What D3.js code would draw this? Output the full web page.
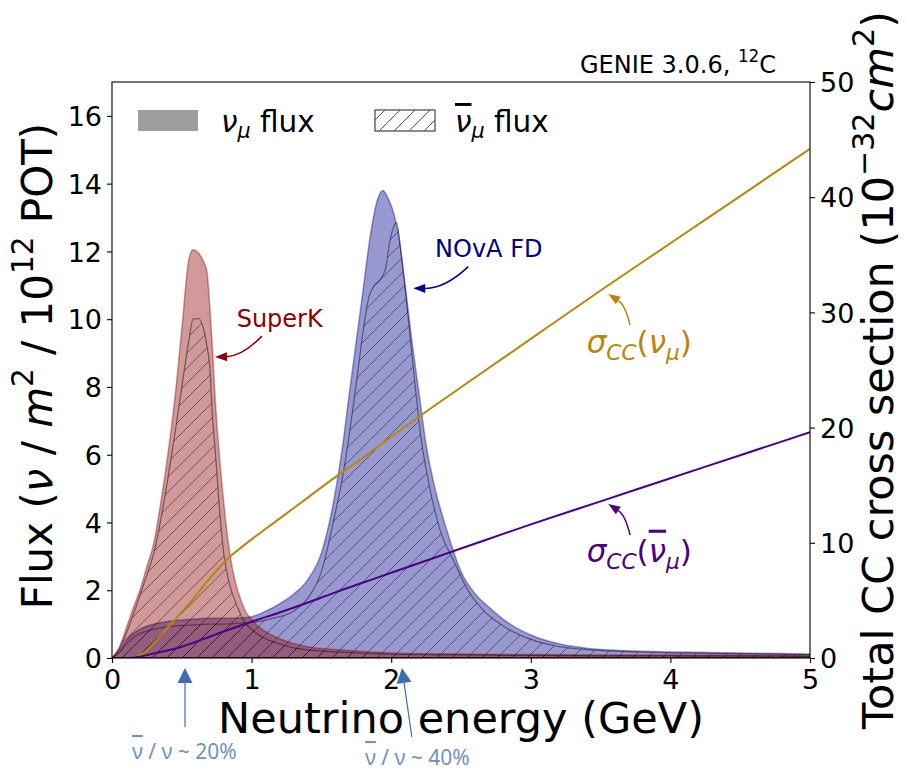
<!DOCTYPE html>
<html>
<head>
<meta charset="utf-8">
<script src="https://cdn.jsdelivr.net/npm/d3@7"></script>
<style>
  body { margin: 0; background: #fff; }
  svg { display: block; }
</style>
</head>
<body>
<svg id="chart" width="907" height="772"></svg>
<script>
// ---- Flux spectra (ν / m² / 10¹² POT) ----
const energySK = [0, 0.05, 0.1, 0.15, 0.2, 0.25, 0.3, 0.35, 0.4, 0.45, 0.5, 0.55, 0.58, 0.62, 0.65, 0.68, 0.7, 0.72, 0.74, 0.77,
                  0.8, 0.84, 0.88, 0.92, 0.96, 1.0, 1.05, 1.1, 1.2, 1.3, 1.4, 1.6, 1.8, 2.0, 2.5, 3.0, 3.5, 4.0, 4.5, 5.0];
const superkNu = [0, 0.3, 0.85, 1.45, 2.0, 2.7, 3.4, 4.6, 6.0, 7.65, 9.7, 11.75, 12.05, 11.95, 11.75, 11.4, 10.4, 9.1, 7.6, 5.95,
                  4.6, 3.2, 2.3, 1.75, 1.35, 1.15, 0.92, 0.78, 0.57, 0.43, 0.33, 0.25, 0.19, 0.15, 0.12, 0.1, 0.09, 0.085, 0.08, 0.07];
const superkNubar = [0, 0.25, 0.7, 1.25, 1.85, 2.45, 3.1, 4.1, 5.3, 6.6, 8.0, 9.35, 10.0, 10.02, 9.8, 9.2, 8.6, 7.1, 6.1, 4.4,
                     3.1, 2.2, 1.7, 1.3, 1.0, 0.85, 0.68, 0.57, 0.42, 0.3, 0.24, 0.18, 0.14, 0.11, 0.09, 0.075, 0.065, 0.06, 0.055, 0.05];

const energyNOvA = [0, 0.05, 0.1, 0.15, 0.2, 0.3, 0.4, 0.5, 0.6, 0.7, 0.8, 0.9, 1.0, 1.1, 1.2, 1.3, 1.4, 1.5, 1.6, 1.65,
                    1.7, 1.75, 1.8, 1.85, 1.9, 1.94, 1.98, 2.02, 2.06, 2.1, 2.15, 2.2, 2.25, 2.3, 2.4, 2.5, 2.6, 2.7, 2.8, 2.9,
                    3.0, 3.2, 3.4, 3.6, 3.8, 4.0, 4.3, 4.6, 5.0];
const novaNu = [0, 0.2, 0.5, 0.72, 0.85, 1.0, 1.08, 1.12, 1.15, 1.17, 1.17, 1.18, 1.22, 1.38, 1.6, 1.88, 2.3, 3.1, 4.9, 6.2,
                7.8, 9.35, 10.9, 12.45, 13.5, 13.8, 13.55, 13.1, 12.3, 11.0, 9.3, 7.8, 6.3, 5.25, 3.75, 2.55, 1.9, 1.5, 1.15, 0.88,
                0.68, 0.42, 0.29, 0.23, 0.2, 0.18, 0.16, 0.14, 0.12];

const energyNOvABar = [0, 0.05, 0.1, 0.15, 0.2, 0.3, 0.4, 0.5, 0.6, 0.7, 0.8, 0.9, 1.0, 1.1, 1.2, 1.3, 1.4, 1.5, 1.6, 1.65,
                       1.7, 1.75, 1.8, 1.84, 1.88, 1.92, 1.96, 1.99, 2.02, 2.04, 2.07, 2.1, 2.13, 2.17, 2.21, 2.27, 2.35, 2.45, 2.55, 2.65,
                       2.8, 3.0, 3.2, 3.4, 3.6, 3.8, 4.0, 4.5, 5.0];
const novaNubar = [0, 0.15, 0.4, 0.6, 0.72, 0.85, 0.92, 0.96, 0.98, 1.0, 1.0, 1.02, 1.05, 1.12, 1.22, 1.38, 1.75, 2.55, 4.3, 5.3,
                   6.6, 8.1, 9.68, 10.65, 11.0, 11.16, 11.5, 12.3, 12.75, 12.85, 11.95, 10.9, 9.7, 8.1, 6.6, 5.15, 3.78, 2.85, 2.0, 1.45,
                   0.95, 0.55, 0.34, 0.25, 0.2, 0.17, 0.15, 0.12, 0.1];

// ---- GENIE total CC cross sections on carbon (10⁻³² cm²) ----
const energyXsecNu = [0.15, 0.2, 0.25, 0.3, 0.4, 0.5, 0.6, 0.7, 0.8, 0.85, 0.9, 1.0, 1.2, 1.4, 1.6, 1.8, 2.0, 2.2, 2.5, 3.0, 3.5, 4.0, 4.5, 5.0];
const xsecNu = [0, 0.25, 0.65, 1.3, 2.65, 4.0, 5.4, 6.9, 8.25, 8.85, 9.35, 10.3, 12.1, 13.9, 15.7, 17.4, 19.2, 20.95, 23.5, 27.7, 31.9, 36.0, 40.1, 44.2];
const energyXsecNubar = [0.14, 0.2, 0.3, 0.45, 0.6, 0.7, 0.8, 1.0, 1.2, 1.4, 1.6, 1.8, 2.0, 2.5, 3.0, 3.5, 4.0, 4.5, 5.0];
const xsecNubar = [0, 0.12, 0.4, 0.8, 1.4, 1.85, 2.3, 3.15, 3.95, 4.8, 5.7, 6.55, 7.4, 9.5, 11.6, 13.6, 15.6, 17.6, 19.6];

// ---- Axis ticks ----
const energyTicks = [0, 1, 2, 3, 4, 5];
const fluxTicks = [0, 2, 4, 6, 8, 10, 12, 14, 16];
const xsecTicks = [0, 10, 20, 30, 40, 50];

// ---- Layout ----
const L = 112, R = 810, T = 82, B = 658;
const FONT = "'DejaVu Sans', sans-serif";
const C_RED = "#8b0000", C_BLUE = "#00008b", C_GOLD = "#b8860b", C_INDIGO = "#4b0082";
const C_NOTE_TXT = "#7090c6", C_NOTE_ARW = "#3e6db3";

const svg = d3.select("#chart");
svg.append("rect").attr("width", 907).attr("height", 772).attr("fill", "#fff");

const x = d3.scaleLinear().domain([0, 5]).range([L, R]);
const yFlux = d3.scaleLinear().domain([0, 17]).range([B, T]);
const yXsec = d3.scaleLinear().domain([0, 50]).range([B, T]);

const defs = svg.append("defs");
defs.append("clipPath").attr("id", "plotClip")
  .append("rect").attr("x", L).attr("y", T).attr("width", R - L).attr("height", B - T);

function hatchPattern(id, color, opacity) {
  const p = defs.append("pattern").attr("id", id)
    .attr("patternUnits", "userSpaceOnUse").attr("width", 15).attr("height", 15);
  p.append("path").attr("d", "M-2,2 L2,-2 M0,15 L15,0 M13,17 L17,13")
    .attr("stroke", color).attr("stroke-opacity", opacity).attr("stroke-width", 1).attr("fill", "none");
}
hatchPattern("hatchData", "#000", 0.45);
hatchPattern("hatchLegend", "#444", 0.9);

const plot = svg.append("g").attr("clip-path", "url(#plotClip)");

function zip(es, vs) { return es.map((e, i) => [e, vs[i]]); }
const area = d3.area().x(d => x(d[0])).y0(yFlux(0)).y1(d => yFlux(d[1])).curve(d3.curveMonotoneX);

function filledFlux(es, vs, color) {
  plot.append("path").datum(zip(es, vs)).attr("d", area)
    .attr("fill", color).attr("fill-opacity", 0.4)
    .attr("stroke", color).attr("stroke-opacity", 0.4).attr("stroke-width", 1.5);
}
function hatchedFlux(es, vs) {
  plot.append("path").datum(zip(es, vs)).attr("d", area)
    .attr("fill", "url(#hatchData)")
    .attr("stroke", "#000").attr("stroke-opacity", 0.45).attr("stroke-width", 1.2);
}

filledFlux(energyNOvA, novaNu, C_BLUE);
hatchedFlux(energyNOvABar, novaNubar);
filledFlux(energySK, superkNu, C_RED);
hatchedFlux(energySK, superkNubar);

// Cross-section curves on the right-hand axis
const xsLine = d3.line().x(d => x(d[0])).y(d => yXsec(d[1])).curve(d3.curveMonotoneX);
plot.append("path").datum(zip(energyXsecNu, xsecNu)).attr("d", xsLine)
  .attr("fill", "none").attr("stroke", C_GOLD).attr("stroke-width", 2);
plot.append("path").datum(zip(energyXsecNubar, xsecNubar)).attr("d", xsLine)
  .attr("fill", "none").attr("stroke", C_INDIGO).attr("stroke-width", 2);

// Frame
svg.append("rect").attr("x", L).attr("y", T).attr("width", R - L).attr("height", B - T)
  .attr("fill", "none").attr("stroke", "#000").attr("stroke-width", 1.1);

// Axes
function styleAxis(g) {
  g.select(".domain").remove();
  g.selectAll(".tick line").attr("stroke", "#000").attr("stroke-width", 1.1);
  g.selectAll(".tick text").attr("font-family", FONT).attr("font-size", 27).attr("fill", "#000");
}
const gx = svg.append("g").attr("transform", `translate(0,${B})`)
  .call(d3.axisBottom(x).tickValues(energyTicks).tickSize(5).tickPadding(5).tickFormat(d3.format("d")));
styleAxis(gx);
gx.selectAll(".tick text").attr("y", 12).attr("dy", "0.71em");

const gyl = svg.append("g").attr("transform", `translate(${L},0)`)
  .call(d3.axisLeft(yFlux).tickValues(fluxTicks).tickSize(5).tickPadding(5).tickFormat(d3.format("d")));
styleAxis(gyl);
gyl.selectAll(".tick text").attr("dy", "0.36em");

const gyr = svg.append("g").attr("transform", `translate(${R},0)`)
  .call(d3.axisRight(yXsec).tickValues(xsecTicks).tickSize(5).tickPadding(5).tickFormat(d3.format("d")));
styleAxis(gyr);
gyr.selectAll(".tick text").attr("dy", "0.36em");

// Rich text: segments with italic / sub / sup / bar flags
function rich(textSel, segs, size) {
  let shift = 0;
  segs.forEach(s => {
    const ts = textSel.append("tspan").text(s.t);
    const target = s.sub ? size * 0.22 : s.sup ? -size * 0.45 : 0;
    const dy = target - shift;
    if (dy !== 0) ts.attr("dy", dy);
    shift = target;
    if (s.sub || s.sup) ts.attr("font-size", size * 0.7);
    if (s.it) ts.attr("font-style", "italic");
    if (s.bar) ts.style("text-decoration", "overline");
  });
  return textSel;
}
function label(x0, y0, segs, size, color, opts = {}) {
  const t = svg.append("text").attr("x", x0).attr("y", y0)
    .attr("font-family", opts.font || FONT).attr("font-size", size).attr("fill", color)
    .attr("text-anchor", opts.anchor || "start");
  if (opts.rotate) t.attr("transform", `rotate(${opts.rotate},${x0},${y0})`);
  return rich(t, segs, size);
}

// Axis titles
label((L + R) / 2, 733, [{ t: "Neutrino energy (GeV)" }], 43, "#000", { anchor: "middle" });
label(52, (T + B) / 2 - 4, [
  { t: "Flux (" }, { t: "ν", it: true }, { t: " / " }, { t: "m", it: true }, { t: "2", sup: true },
  { t: " / 10" }, { t: "12", sup: true }, { t: " POT)" }
], 42, "#000", { anchor: "middle", rotate: -90 });
label(893, (T + B) / 2, [
  { t: "Total CC cross section (10" }, { t: "−32", sup: true }, { t: "cm", it: true }, { t: "2", sup: true }, { t: ")" }
], 43, "#000", { anchor: "middle", rotate: -90 });

// Generator tag
label(580, 73, [{ t: "GENIE 3.0.6, " }, { t: "12", sup: true }, { t: "C" }], 24, "#000");

// Legend
svg.append("rect").attr("x", 138).attr("y", 110).attr("width", 60).attr("height", 21)
  .attr("fill", "#9e9e9e");
label(221, 132, [{ t: "ν", it: true }, { t: "μ", it: true, sub: true }, { t: " flux" }], 29.5, "#000");
svg.append("rect").attr("x", 375).attr("y", 110).attr("width", 60).attr("height", 21)
  .attr("fill", "url(#hatchLegend)").attr("stroke", "#444").attr("stroke-width", 1.2);
label(455, 132, [{ t: "ν", it: true, bar: true }, { t: "μ", it: true, sub: true }, { t: " flux" }], 29.5, "#000");

// Annotations with curved arrows (positions in data coordinates)
function curvedArrow(S, E, rad, color) {
  const mx = (S[0] + E[0]) / 2, my = (S[1] + E[1]) / 2;
  const dx = E[0] - S[0], dy = E[1] - S[1];
  const C = [mx - rad * dy, my + rad * dx];
  const tx = E[0] - C[0], ty = E[1] - C[1], len = Math.hypot(tx, ty);
  const ux = tx / len, uy = ty / len, hl = 12, hw = 4.5;
  const Bs = [E[0] - ux * hl, E[1] - uy * hl];
  svg.append("path").attr("d", `M${S[0]},${S[1]} Q${C[0]},${C[1]} ${Bs[0]},${Bs[1]}`)
    .attr("fill", "none").attr("stroke", color).attr("stroke-width", 1.5);
  svg.append("path").attr("d",
    `M${E[0]},${E[1]} L${Bs[0] - uy * hw},${Bs[1] + ux * hw} L${Bs[0] + uy * hw},${Bs[1] - ux * hw} Z`)
    .attr("fill", color);
}
const fluxPt = (e, f) => [x(e), yFlux(f)];
const xsecPt = (e, s) => [x(e), yXsec(s)];

label(x(0.893), yFlux(9.78), [{ t: "SuperK" }], 24, C_RED);
curvedArrow(fluxPt(1.074, 9.5), fluxPt(0.738, 8.88), -0.2, C_RED);

label(x(2.314), yFlux(11.83), [{ t: "NOvA FD" }], 24, C_BLUE);
curvedArrow(fluxPt(2.552, 11.55), fluxPt(2.158, 10.91), -0.2, C_BLUE);

label(x(3.40), yXsec(26.48), [
  { t: "σ", it: true }, { t: "CC", it: true, sub: true }, { t: "(" }, { t: "ν", it: true }, { t: "μ", it: true, sub: true }, { t: ")" }
], 31, C_GOLD);
curvedArrow(xsecPt(3.711, 28.9), xsecPt(3.555, 31.6), 0.2, C_GOLD);

label(x(3.40), yXsec(8.36), [
  { t: "σ", it: true }, { t: "CC", it: true, sub: true }, { t: "(" }, { t: "ν", it: true, bar: true }, { t: "μ", it: true, sub: true }, { t: ")" }
], 31, C_INDIGO);
curvedArrow(xsecPt(3.711, 10.68), xsecPt(3.555, 13.37), 0.2, C_INDIGO);

// Antineutrino contamination notes below the energy axis
function straightArrow(S, E, color) {
  const dx = E[0] - S[0], dy = E[1] - S[1], len = Math.hypot(dx, dy);
  const ux = dx / len, uy = dy / len, hl = 15, hw = 7.5;
  const Bs = [E[0] - ux * hl, E[1] - uy * hl];
  svg.append("line").attr("x1", S[0]).attr("y1", S[1]).attr("x2", Bs[0]).attr("y2", Bs[1])
    .attr("stroke", color).attr("stroke-width", 1.2);
  svg.append("path").attr("d",
    `M${E[0]},${E[1]} L${Bs[0] - uy * hw},${Bs[1] + ux * hw} L${Bs[0] + uy * hw},${Bs[1] - ux * hw} Z`)
    .attr("fill", color);
}
straightArrow([x(0.523), B + 69], [x(0.523), B + 10], C_NOTE_ARW);
straightArrow([x(2.148), B + 79], [x(2.077), B + 10], C_NOTE_ARW);
const noteFont = "'Noto Sans', 'Open Sans', sans-serif";
label(132, 759, [{ t: "ν", bar: true }, { t: " / ν ~ 20%" }], 21, C_NOTE_TXT, { font: noteFont });
label(365, 765, [{ t: "ν", bar: true }, { t: " / ν ~ 40%" }], 21, C_NOTE_TXT, { font: noteFont });
</script>
</body>
</html>
